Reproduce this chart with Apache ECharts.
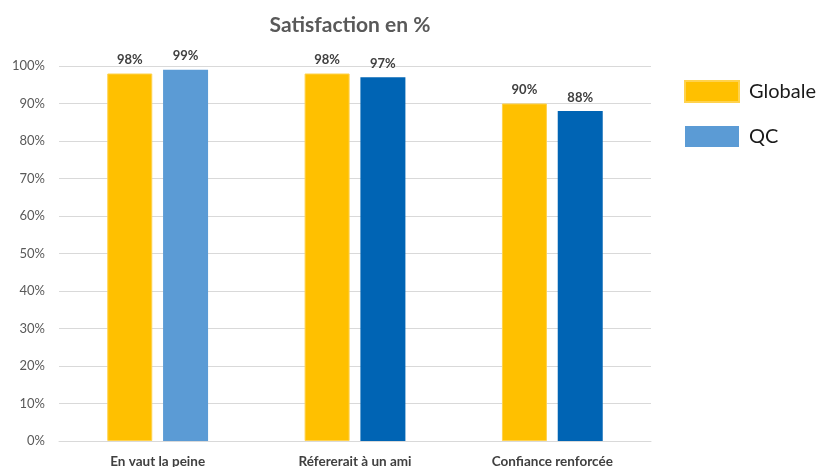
<!DOCTYPE html>
<html><head><meta charset="utf-8">
<script src="https://cdn.jsdelivr.net/npm/echarts@6/dist/echarts.min.js"></script>
<style>html,body{margin:0;padding:0;background:#fff}#c{width:819px;height:467px}</style>
</head><body><div id="c"></div>
<script>
const categories = ['En vaut la peine', 'Réfererait à un ami', 'Confiance renforcée'];
const globale = [98, 98, 90];
const qc = [99, 97, 88];
const yTicks = [0, 10, 20, 30, 40, 50, 60, 70, 80, 90, 100];

const qcColors = ['#5B9BD5', '#0064B4', '#0064B4'];
const font = 'Lato, "Open Sans", sans-serif';
const chart = echarts.init(document.getElementById('c'));
chart.setOption({
  animation: false,
  title: {text: 'Satisfaction en %', left: 345, top: 10, textAlign: 'center',
    textStyle: {fontFamily: font, fontSize: 21, fontWeight: 'bold', color: '#595959'}},
  legend: {orient: 'vertical', left: 679, top: 75, itemWidth: 54, itemHeight: 21, itemGap: 23,
    icon: 'rect',
    textStyle: {fontFamily: font, fontSize: 20, color: '#1a1a1a', padding: [0,0,0,5]},
    data: ['Globale', 'QC']},
  grid: {left: 59, right: 168, top: 66, bottom: 26, containLabel: false, outerBoundsMode: 'none'},
  xAxis: {type: 'category', data: categories,
    axisLine: {lineStyle: {color: '#d9d9d9'}}, axisTick: {show: false},
    axisLabel: {fontFamily: font, fontSize: 13.5, fontWeight: 'bold', color: '#404040', margin: 14}},
  yAxis: {type: 'value', min: 0, max: 100, interval: 10,
    axisLine: {show: false}, axisTick: {show: false},
    splitLine: {lineStyle: {color: '#d9d9d9'}},
    axisLabel: {fontFamily: font, fontSize: 13, color: '#595959', margin: 14,
      formatter: v => yTicks.includes(v) ? v + '%' : ''}},
  series: [
    {name: 'Globale', type: 'bar', data: globale, barWidth: 45, barGap: '24%',
      itemStyle: {color: '#FFC000', borderColor: '#FFD24D', borderWidth: 1},
      label: {show: true, position: 'top', distance: 7, formatter: '{c}%',
        fontFamily: font, fontSize: 13, fontWeight: 'bold', color: '#404040'}},
    {name: 'QC', type: 'bar', barWidth: 45,
      data: qc.map((v, i) => ({value: v, itemStyle: {color: qcColors[i]}})),
      itemStyle: {color: '#5B9BD5'},
      label: {show: true, position: 'top', distance: 7, formatter: '{c}%',
        fontFamily: font, fontSize: 13, fontWeight: 'bold', color: '#404040'}}
  ]
});
</script></body></html>
